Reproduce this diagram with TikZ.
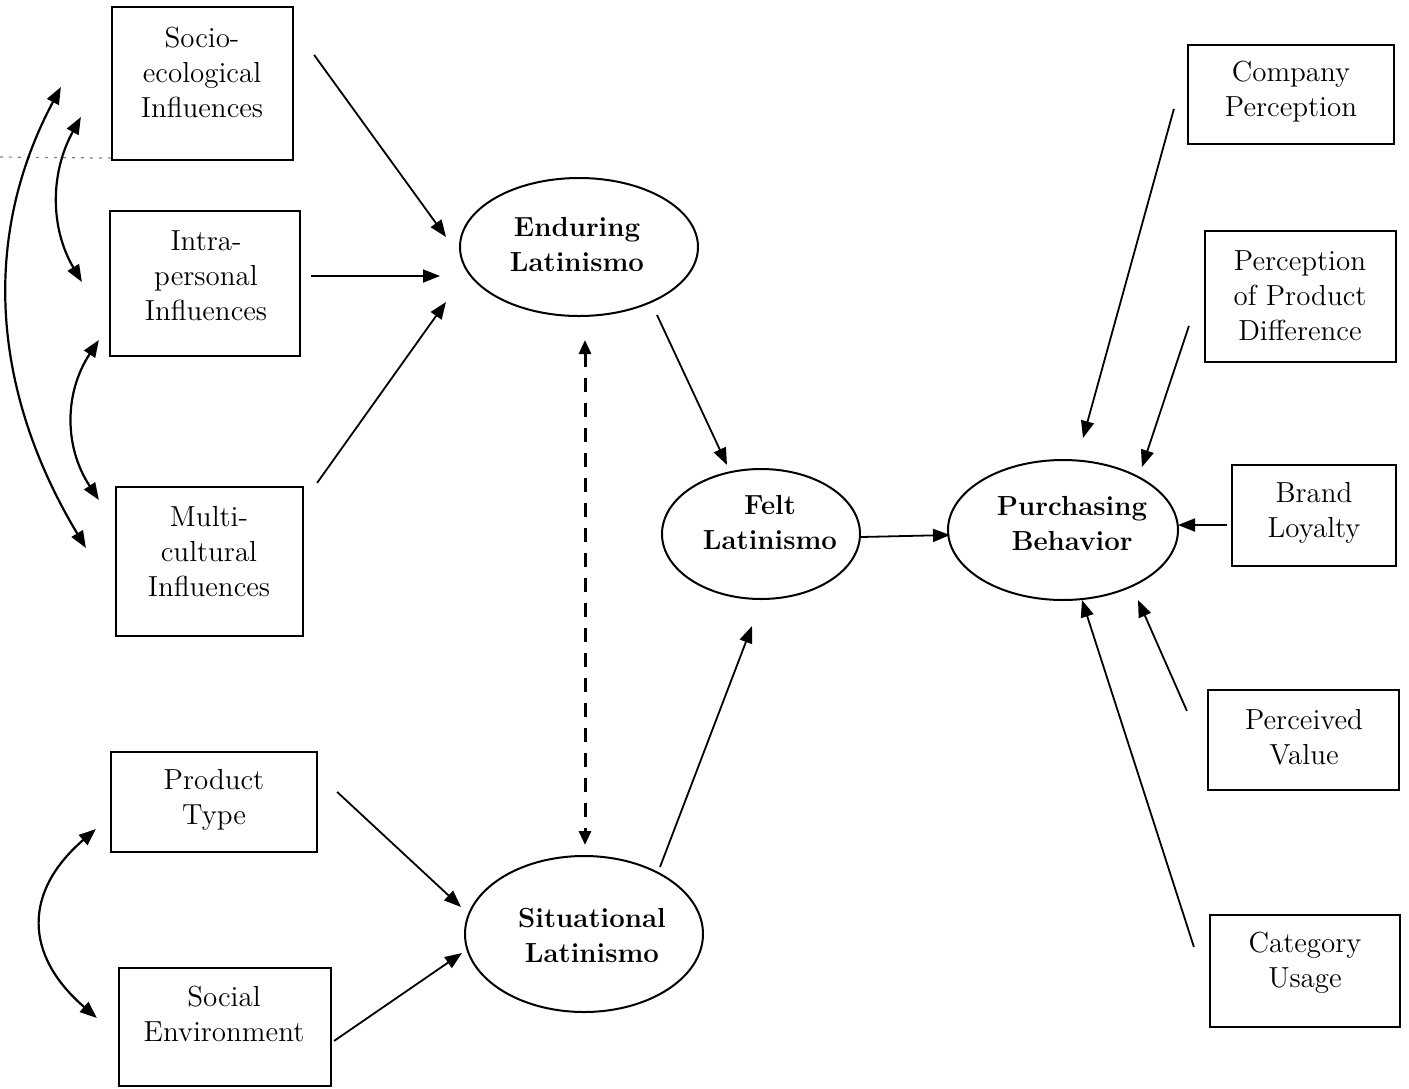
\documentclass[tikz,border=0pt]{standalone}
\usepackage{fontspec}
\usetikzlibrary{shapes.geometric,arrows.meta,calc}
\begin{document}
\begin{tikzpicture}[x=0.5pt,y=-0.5pt,
  rbox/.style={draw, rectangle, line width=1.1pt, inner sep=0pt},
  oval/.style={draw, ellipse, line width=1pt, inner sep=0pt},
  txt/.style={align=center, inner sep=0pt, font=\fontsize{14.5}{17.5}\selectfont},
  btxt/.style={align=center, inner sep=0pt, font=\bfseries\fontsize{13.8}{17.5}\selectfont},
  arr/.style={line width=0.9pt, -{Triangle[length=8.5pt,width=6.5pt]}},
  darr/.style={line width=1.1pt, {Triangle[length=8.5pt,width=6.5pt]}-{Triangle[length=8.5pt,width=6.5pt]}},
  dasharr/.style={line width=1.5pt, dash pattern=on 7pt off 5.5pt, {Triangle[length=7pt,width=6pt]}-{Triangle[length=7pt,width=6pt]}}
]
\useasboundingbox (0,0) rectangle (1409,1088);

% boxes
\node[rbox, minimum width=90.5pt, minimum height=76.5pt] (socio) at (202.5,83.5) {};
\node[rbox, minimum width=95pt, minimum height=72.5pt] (intra) at (205,283.5) {};
\node[rbox, minimum width=93.5pt, minimum height=74.5pt] (multi) at (209.5,561.5) {};
\node[rbox, minimum width=103pt, minimum height=50pt] (ptype) at (214,802) {};
\node[rbox, minimum width=106pt, minimum height=59pt] (social) at (225,1027) {};
\node[rbox, minimum width=103pt, minimum height=49.5pt] (company) at (1291,94.5) {};
\node[rbox, minimum width=95.5pt, minimum height=65.5pt] (ppd) at (1300.5,296.5) {};
\node[rbox, minimum width=82pt, minimum height=50.5pt] (brand) at (1314,515.5) {};
\node[rbox, minimum width=95.5pt, minimum height=50pt] (perceived) at (1303.5,740) {};
\node[rbox, minimum width=95pt, minimum height=56pt] (category) at (1305,971) {};

% box texts
\node[txt] (sociot) at (202,72) {Socio-\\ecological\\Influences};
\node[txt] (intrat) at (206,276) {Intra-\\personal\\Influences};
\node[txt] (multit) at (209,552) {Multi-\\cultural\\Influences};
\node[txt] (ptypet) at (214,800) {Product\\Type};
\node[txt] (socialt) at (224,1014) {Social\\Environment};
\node[txt] (companyt) at (1291,92) {Company\\Perception};
\node[txt] (ppdt) at (1300,296) {Perception\\of Product\\Difference};
\node[txt] (brandt) at (1314,513) {Brand\\Loyalty};
\node[txt] (perceivedt) at (1304,737) {Perceived\\Value};
\node[txt] (categoryt) at (1305,963) {Category\\Usage};

% ellipses
\node[oval, minimum width=119pt, minimum height=69pt] (enduring) at (579,247) {};
\node[oval, minimum width=99pt, minimum height=65pt] (felt) at (761,534) {};
\node[oval, minimum width=115pt, minimum height=70pt] (purch) at (1063,530) {};
\node[oval, minimum width=119pt, minimum height=78pt] (situ) at (584,934) {};

\node[btxt] (enduringt) at (577,244) {Enduring\\Latinismo};
\node[btxt] (feltt) at (770,522) {Felt\\Latinismo};
\node[btxt] (purcht) at (1072,523) {Purchasing\\Behavior};
\node[btxt] (situt) at (592,935) {Situational\\Latinismo};

% faint dotted line (top left)
\draw[gray, line width=0.6pt, dash pattern=on 1.5pt off 3pt] (0,157) -- ($(socio.south west)+(0,-3)$);

% straight arrows
\draw[arr] ($(socio.north east)+(20,49)$) -- ($(enduring.center)+(-133,-10)$);
\draw[arr] ($(intra.east)+(10,-7.5)$) -- ($(enduring.center)+(-139,29)$);
\draw[arr] ($(multi.north east)+(13,-3)$) -- ($(enduring.center)+(-133,55)$);
\draw[arr] ($(enduring.center)+(78,68)$) -- ($(felt.center)+(-34,-69)$);
\draw[dasharr] ($(enduring.center)+(6,93)$) -- ($(situ.center)+(1,-89)$);
\draw[arr] ($(felt.center)+(100,3)$) -- ($(purch.center)+(-113,5)$);
\draw[arr] ($(ptype.north east)+(19,41)$) -- ($(situ.center)+(-123,-27)$);
\draw[arr] ($(social.north east)+(2,74)$) -- ($(situ.center)+(-122,19)$);
\draw[arr] ($(situ.center)+(76,-67)$) -- ($(felt.center)+(-9,92)$);
\draw[arr] ($(company.north west)+(-13,65)$) -- ($(purch.center)+(20,-92)$);
\draw[arr] ($(ppd.north west)+(-15,96)$) -- ($(purch.center)+(79,-63)$);
\draw[arr] ($(brand.west)+(-4,9.5)$) -- ($(purch.center)+(115,-5)$);
\draw[arr] ($(perceived.north west)+(-20,22)$) -- ($(purch.center)+(75,70)$);
\draw[arr] ($(category.north west)+(-15,33)$) -- ($(purch.center)+(19,70)$);

% curved double arrows (left)
\draw[darr] ($(socio.west)+(-50,3.5)$) .. controls (-18,235) and (-10,388) .. ($(multi.west)+(-29,-13.5)$);
\draw[darr] ($(socio.west)+(-30,33.5)$) .. controls (50,173) and (50,228) .. ($(intra.west)+(-27,-1.5)$);
\draw[darr] ($(intra.west)+(-10,56.5)$) .. controls (64,393) and (64,447) .. ($(multi.west)+(-16,-61.5)$);
\draw[darr] ($(ptype.west)+(-14,27)$) .. controls (23,892) and (24,955) .. ($(social.west)+(-21,-9)$);
\end{tikzpicture}
\end{document}
